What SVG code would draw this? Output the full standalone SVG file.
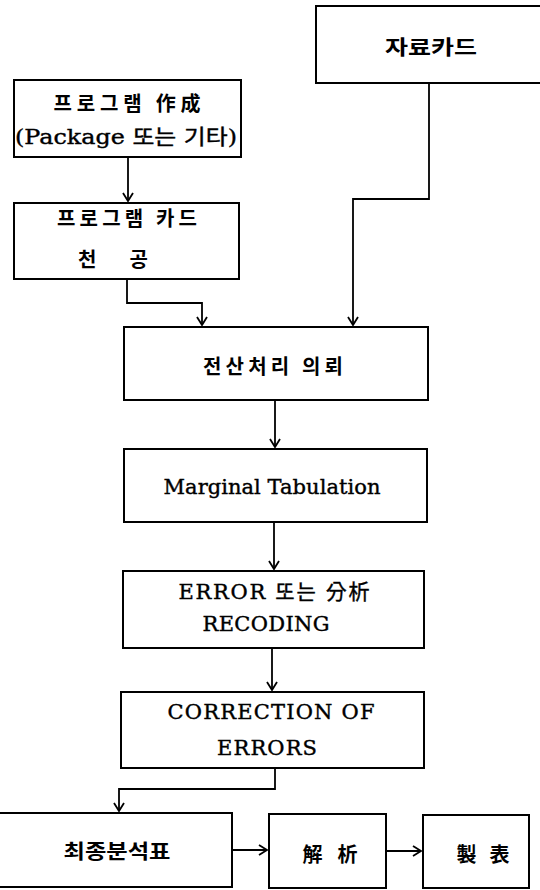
<svg xmlns="http://www.w3.org/2000/svg" width="540" height="890" viewBox="0 0 540 890">
<defs>
<marker id="ah" viewBox="0 0 12 12" refX="10" refY="6" markerWidth="12" markerHeight="12" markerUnits="userSpaceOnUse" orient="auto">
<polyline points="2,1 10,6 2,11" fill="none" stroke="#000" stroke-width="1.8"/>
</marker>
<style>
.box{fill:#fff;stroke:#000;stroke-width:2}
.t{font-family:"DejaVu Serif","Noto Sans CJK KR",serif;font-size:21px;fill:#000;stroke:#000;stroke-width:0.4;text-anchor:middle;dominant-baseline:central}
.k{font-family:"Noto Sans CJK KR","DejaVu Serif",serif;font-size:20px;font-weight:bold;fill:#000;text-anchor:middle;dominant-baseline:central}
.c{fill:none;stroke:#000;stroke-width:1.8;marker-end:url(#ah)}
</style>
</defs>
<rect width="540" height="890" fill="#fff"/>
<g id="connectors">
<path class="c" d="M128,157 V201"/>
<path class="c" d="M429,83 V199 H353 V325"/>
<path class="c" d="M127,279 V303 H202 V325"/>
<path class="c" d="M275,400 V447"/>
<path class="c" d="M274,522 V569"/>
<path class="c" d="M272,648 V690"/>
<path class="c" d="M275,768 V789 H119 V811"/>
<path class="c" d="M232,850 H267"/>
<path class="c" d="M386,851 H421"/>
</g>
<g id="n_jaryo">
<rect class="box" x="316" y="6" width="240" height="77"/>
<text class="k" x="431" y="46" textLength="92" lengthAdjust="spacingAndGlyphs">자료카드</text>
</g>
<g id="n_program">
<rect class="box" x="14" y="80" width="227" height="77"/>
<text class="k" x="127" y="102" textLength="147" lengthAdjust="spacing">프로그램 作成</text>
<text class="t" x="126" y="137" textLength="222" lengthAdjust="spacingAndGlyphs">(Package 또는 기타)</text>
</g>
<g id="n_card">
<rect class="box" x="14" y="203" width="225" height="76"/>
<text class="k" x="127" y="217" textLength="140" lengthAdjust="spacing">프로그램 카드</text>
<text class="k" x="113" y="258" textLength="70" lengthAdjust="spacing">천 공</text>
</g>
<g id="n_request">
<rect class="box" x="124" y="327" width="304" height="73"/>
<text class="k" x="273" y="365" textLength="140" lengthAdjust="spacing">전산처리 의뢰</text>
</g>
<g id="n_marginal">
<rect class="box" x="124" y="449" width="303" height="73"/>
<text class="t" x="272" y="487" textLength="217" lengthAdjust="spacing">Marginal Tabulation</text>
</g>
<g id="n_error">
<rect class="box" x="123" y="571" width="301" height="77"/>
<text class="t" x="274" y="592" textLength="191" lengthAdjust="spacing">ERROR 또는 分析</text>
<text class="t" x="266" y="624" textLength="127" lengthAdjust="spacing">RECODING</text>
</g>
<g id="n_correction">
<rect class="box" x="121" y="692" width="303" height="76"/>
<text class="t" x="271" y="712" textLength="207" lengthAdjust="spacing">CORRECTION OF</text>
<text class="t" x="267" y="748" textLength="100" lengthAdjust="spacing">ERRORS</text>
</g>
<g id="n_final">
<rect class="box" x="-5" y="813" width="237" height="74"/>
<text class="k" x="117" y="850" textLength="107" lengthAdjust="spacingAndGlyphs">최종분석표</text>
</g>
<g id="n_analysis">
<rect class="box" x="269" y="814" width="117" height="74"/>
<text class="k" x="330" y="853" textLength="55" lengthAdjust="spacing">解 析</text>
</g>
<g id="n_table">
<rect class="box" x="423" y="815" width="106" height="73"/>
<text class="k" x="483" y="853" textLength="53" lengthAdjust="spacing">製 表</text>
</g>
</svg>
